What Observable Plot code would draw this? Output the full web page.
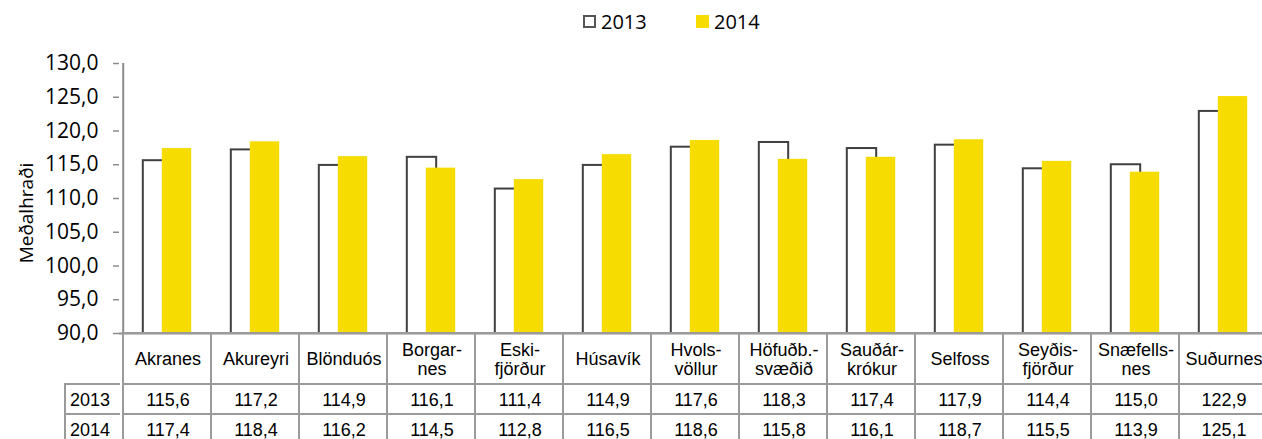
<!DOCTYPE html>
<html>
<head>
<meta charset="utf-8">
<script src="https://cdn.jsdelivr.net/npm/d3@7"></script>
<script src="https://cdn.jsdelivr.net/npm/@observablehq/plot@0.6"></script>
<style>
  html, body { margin: 0; padding: 0; background: #fff; overflow: hidden; width: 1262px; height: 439px; }
  #wrap { position: relative; width: 1262px; height: 439px; overflow: hidden; }
  #chart { position: absolute; left: 0; top: 0; width: 1271px; }
  #chart svg { max-width: none !important; }
  .legend { position: absolute; top: 8px; font-family: "Open Sans", sans-serif; font-size: 20px; color: #000; display: flex; align-items: center; }
  .sw { width: 13px; height: 13px; box-sizing: border-box; margin-right: 5px; }
  .ylab { position: absolute; left: 26px; top: 213px; transform: translate(-50%, -50%) rotate(-90deg); font-family: "Open Sans", sans-serif; font-size: 19px; white-space: nowrap; color: #000; }
  .cell { position: absolute; box-sizing: border-box; border-left: 2px solid #9a9a9a; border-top: 2px solid #9a9a9a; font-family: "Liberation Sans", Arial, sans-serif; font-size: 18px; line-height: 19px; color: #000; display: flex; align-items: center; justify-content: center; text-align: center; white-space: pre; }
  .rowlab { justify-content: flex-start; padding-left: 4px; }
</style>
</head>
<body>
<div id="wrap">
  <div id="chart"></div>
</div>
<script>
const categories = ["Akranes","Akureyri","Blönduós","Borgar-\nnes","Eski-\nfjörður","Húsavík","Hvols-\nvöllur","Höfuðb.-\nsvæðið","Sauðár-\nkrókur","Selfoss","Seyðis-\nfjörður","Snæfells-\nnes","Suðurnes"];
const v2013 = [115.6,117.2,114.9,116.1,111.4,114.9,117.6,118.3,117.4,117.9,114.4,115.0,122.9];
const v2014 = [117.4,118.4,116.2,114.5,112.8,116.5,118.6,115.8,116.1,118.7,115.5,113.9,125.1];
const seriesNames = ["2013","2014"];
const yTicks = [90,95,100,105,110,115,120,125,130];
const yLabel = "Meðalhraði";

const colors = {"2013": "#ffffff", "2014": "#F6DC00"};
const fmt = d => d.toFixed(1).replace(".", ",");

const d13 = categories.map((c, i) => ({cat: c, v: v2013[i]}));
const d14 = categories.map((c, i) => ({cat: c, v: v2014[i]}));

const W = 1271, H = 334, ML = 119;
const bw = (W - ML) / categories.length;
const barW = 30, off = 24.5; // bar width & group offset in px

const plot = Plot.plot({
  width: W, height: H,
  marginLeft: ML, marginRight: 0, marginTop: 63, marginBottom: 1,
  style: {fontFamily: "Open Sans, sans-serif", color: "#000", background: "transparent", overflow: "visible"},
  x: {domain: categories, padding: 0, axis: null},
  y: {domain: [90, 130], label: null, axis: null},
  marks: [
    Plot.axisY({ticks: yTicks, text: null, tickSize: 6, stroke: "#8c8c8c", strokeWidth: 1.5, label: null}),
    Plot.text(yTicks, {y: d => d, text: fmt, frameAnchor: "left", textAnchor: "end", dx: -21, fontSize: 21, fontFamily: "Open Sans, sans-serif", fill: "#000"}),
    Plot.ruleX([categories[0]], {x: d => d, y1: 90, y2: 130, dx: -bw / 2, stroke: "#8c8c8c", strokeWidth: 2}),
    Plot.barY(d13, {x: "cat", y1: 90, y2: "v", fill: colors["2013"], stroke: "#404040", strokeWidth: 2,
      insetLeft: bw / 2 - off, insetRight: bw / 2 - (barW - off)}),
    Plot.barY(d14, {x: "cat", y1: 90, y2: "v", fill: colors["2014"],
      insetLeft: bw / 2 - (barW - off), insetRight: bw / 2 - off}),
    Plot.ruleY([90], {stroke: "#8c8c8c", strokeWidth: 2})
  ]
});
document.getElementById("chart").appendChild(plot);

const wrap = document.getElementById("wrap");
const xs = plot.scale("x");

// legend
const leg = [{name: "2013", left: 583, fill: "#fff", border: "2px solid #555"}, {name: "2014", left: 696, fill: colors["2014"], border: "none"}];
leg.forEach(l => {
  const div = document.createElement("div");
  div.className = "legend";
  div.style.left = l.left + "px";
  const sw = document.createElement("div");
  sw.className = "sw";
  sw.style.background = l.fill;
  sw.style.border = l.border;
  div.appendChild(sw);
  div.appendChild(document.createTextNode(l.name));
  wrap.appendChild(div);
});

// y label
const yl = document.createElement("div");
yl.className = "ylab";
yl.textContent = yLabel;
wrap.appendChild(yl);

// data table
function cell(x, y, w, h, text, cls) {
  const c = document.createElement("div");
  c.className = "cell" + (cls ? " " + cls : "");
  c.style.left = x + "px"; c.style.top = y + "px";
  c.style.width = w + "px"; c.style.height = h + "px";
  c.textContent = text;
  wrap.appendChild(c);
}
const top0 = 332, hHead = 51, hRow = 30;
categories.forEach((c, i) => {
  const x = xs.apply(c) - 1;
  cell(x, top0, xs.bandwidth + 2, hHead + 2, c);
  cell(x, top0 + hHead, xs.bandwidth + 2, hRow + 2, fmt(v2013[i]));
  cell(x, top0 + hHead + hRow, xs.bandwidth + 2, hRow + 2, fmt(v2014[i]));
});
[v2013, v2014].forEach((arr, r) => {
  cell(64, top0 + hHead + r * hRow, ML - 64 + 1, hRow + 2, seriesNames[r], "rowlab");
});
</script>
</body>
</html>
